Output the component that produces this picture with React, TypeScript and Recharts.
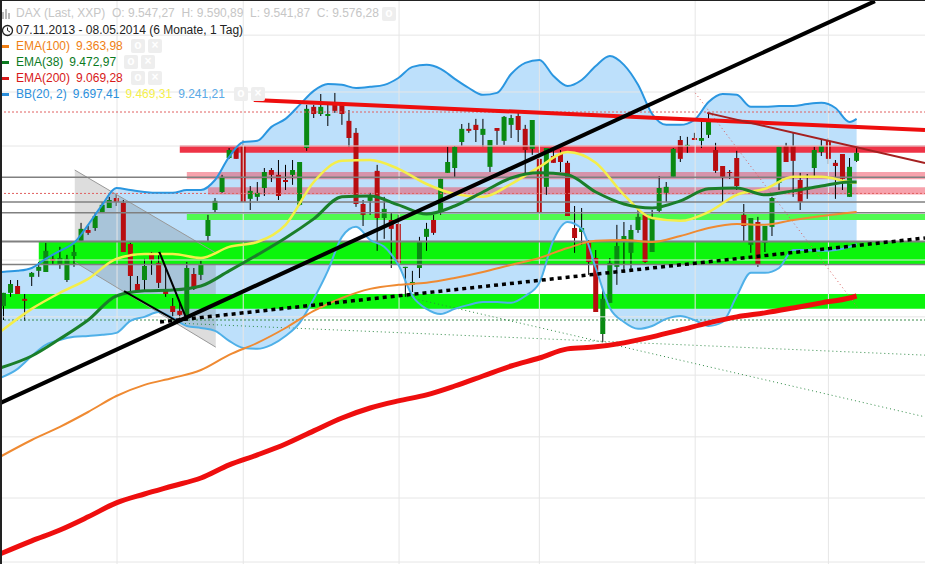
import { ComposedChart, XAxis, YAxis, Bar, Line, Area, ReferenceArea, ReferenceLine } from "recharts";

// daily candles, one entry per trading day
const opens = [9034,9080,9104,9059,9136,9157,9153,9199,9178,9125,9209,9262,9300,9307,9360,9377,9412,9395,9251,9111,9125,9220,9185,9087,9034,9017,8992,9146,9143,9279,9370,9433,9552,9587,9594,9409,9416,9447,9510,9493,9475,9493,9388,9587,9731,9706,9699,9738,9738,9682,9640,9391,9402,9507,9342,9335,9321,9167,9108,9167,9276,9335,9360,9500,9517,9608,9654,9668,9633,9521,9657,9612,9668,9699,9654,9584,9549,9451,9559,9566,9535,9307,9293,9255,9202,8936,9045,9171,9262,9220,9300,9353,9223,9367,9430,9486,9615,9594,9622,9612,9633,9580,9524,9503,9552,9353,9248,9328,9255,9311,9465,9594,9594,9475,9451,9517,9573,9612,9535,9566,9416,9542];
const highs = [9080,9125,9125,9076,9153,9188,9255,9213,9241,9213,9248,9325,9314,9363,9398,9416,9426,9405,9255,9139,9199,9223,9223,9167,9062,9048,9188,9167,9192,9353,9412,9493,9587,9587,9615,9454,9468,9517,9517,9545,9528,9545,9538,9738,9738,9776,9738,9780,9748,9720,9657,9405,9430,9528,9416,9360,9353,9171,9157,9276,9325,9353,9479,9591,9594,9671,9675,9689,9689,9615,9657,9699,9703,9710,9668,9685,9580,9587,9580,9580,9542,9384,9377,9265,9230,9090,9202,9318,9328,9318,9381,9353,9370,9489,9468,9587,9629,9626,9640,9685,9710,9605,9524,9510,9577,9391,9342,9346,9314,9416,9591,9605,9640,9500,9496,9591,9615,9622,9545,9566,9552,9587];
const lows = [8985,9066,9076,8982,9104,9136,9153,9178,9164,9118,9171,9258,9283,9297,9360,9377,9384,9223,9083,9087,9090,9143,9097,9066,8996,8985,8992,9090,9125,9262,9360,9430,9549,9549,9398,9370,9402,9419,9468,9405,9440,9458,9384,9577,9692,9699,9664,9710,9668,9591,9381,9314,9353,9227,9269,9167,9185,9066,9083,9132,9227,9283,9353,9500,9482,9594,9640,9608,9591,9503,9598,9598,9622,9608,9493,9563,9360,9423,9535,9503,9349,9220,9248,9143,9013,8908,9045,9108,9150,9153,9290,9185,9223,9363,9398,9482,9538,9570,9615,9587,9622,9500,9398,9479,9440,9258,9220,9171,9223,9279,9440,9538,9416,9370,9409,9482,9559,9531,9409,9440,9416,9538];
const closes = [9080,9111,9076,9052,9150,9171,9227,9192,9202,9199,9223,9304,9290,9349,9388,9405,9398,9223,9139,9087,9174,9195,9115,9076,9013,9003,9167,9094,9181,9335,9402,9486,9580,9549,9398,9437,9430,9503,9493,9419,9468,9510,9538,9724,9706,9731,9706,9717,9706,9622,9391,9353,9416,9342,9374,9304,9185,9171,9118,9258,9304,9290,9479,9538,9591,9654,9647,9650,9654,9615,9647,9696,9692,9650,9580,9685,9360,9587,9535,9538,9349,9272,9307,9188,9013,9059,9185,9244,9279,9300,9346,9188,9342,9447,9451,9584,9549,9598,9615,9622,9678,9507,9486,9500,9454,9314,9342,9178,9314,9412,9591,9538,9542,9398,9440,9580,9594,9549,9524,9479,9521,9570];

// Bollinger bands, read every second day
const bbDays = [-0.5,2,4,6,8,10,12,14,16,18,20,22,24,26,28,30,32,34,36,38,40,42,44,46,48,50,52,54,56,58,60,62,64,66,68,70,72,74,76,78,80,82,84,86,88,90,92,94,96,98,100,102,104,106,108,110,112,114,116,118,120,121];
const bbUpper = [9153,9157,9167,9199,9227,9255,9318,9388,9447,9440,9433,9430,9430,9440,9440,9475,9556,9608,9612,9661,9689,9738,9787,9811,9808,9797,9801,9808,9832,9871,9878,9864,9829,9797,9773,9780,9846,9885,9895,9839,9804,9825,9874,9909,9878,9808,9706,9668,9668,9685,9748,9776,9773,9731,9731,9734,9734,9741,9745,9727,9678,9689];
const bbLower = [8782,8814,8859,8898,8915,8926,8929,8933,8940,8982,8996,9013,8992,8964,8957,8947,8912,8887,8884,8898,8929,8975,9059,9157,9276,9311,9265,9241,9178,9069,9024,9006,9024,9038,9048,9048,9045,9069,9115,9265,9328,9304,9167,9027,8978,8954,8964,8989,8999,8985,8964,8978,9069,9150,9150,9167,9230,9230,9227,9230,9241,9251];

// moving averages, read every fourth day
const maDays = [-0.5,4,8,12,16,20,24,28,32,36,40,44,48,52,56,60,64,68,72,76,80,84,88,92,96,100,104,108,112,116,120,121];
const bbMid = [8943,9024,9080,9129,9199,9216,9216,9202,9241,9258,9318,9468,9542,9545,9514,9461,9426,9416,9461,9521,9573,9535,9423,9342,9332,9363,9423,9444,9486,9486,9468,9465];
const ema38 = [8817,8859,8919,8985,9069,9087,9090,9104,9157,9213,9272,9339,9416,9419,9388,9356,9384,9433,9482,9500,9493,9433,9391,9377,9402,9444,9447,9423,9437,9454,9468,9468];
const ema100 = [8506,8565,8611,8663,8719,8758,8782,8810,8863,8905,8957,9017,9062,9094,9108,9115,9132,9153,9178,9202,9237,9262,9265,9258,9279,9307,9321,9318,9335,9349,9360,9363];
const ema200 = [8166,8212,8250,8296,8345,8376,8404,8432,8478,8513,8551,8597,8642,8677,8702,8723,8754,8789,8824,8852,8884,8891,8905,8926,8950,8975,8996,9010,9027,9045,9062,9069];

// drawing tools on the chart: [day, price] at both ends
const thickTrend = [[-0.5, 8694], [123.6, 10101]];
const dottedTrend = [[22.2, 8978], [130.7, 9272]];
const topResistance = [[35.5, 9755], [130.7, 9650]];
const darkResistance = [[99.8, 9710], [130.7, 9534]];
const redDotted = [[98.1, 9780], [121.1, 9030]];
const greenDottedA = [[24.6, 8974], [130.7, 8862]];
const greenDottedB = [[57.2, 9066], [130.7, 8646]];
const thinA = [[17.1, 9086], [24.8, 8978]];
const thinB = [[22.1, 9223], [25.9, 8992]];

const channelDays = [10.1, 30.1];
const channelTop = [9510, 9220];
const channelBottom = [9188, 8890];

// zones: from day, top price, bottom price
const redZone = [25, 9596, 9570];
const pinkZoneA = [26, 9503, 9478];
const pinkZoneB = [29, 9450, 9424];
const paleGreenZone = [26, 9356, 9335];
const greenZoneA = [5, 9258, 9178];
const greenZoneB = [-0.5, 9076, 9024];

const grayLevels = [9485, 9398, 9360, 9260, 9179];
const gridPrices = [9982, 9783, 9594, 9195, 8996, 8792, 8576, 8362, 8138];
const gridDays = [16.1, 34, 56.1, 76, 98.1, 117];

const X_MIN = -0.5;
const X_MAX = 130.7;
const W = 925;
const H = 564;
const CANDLE_W = 5;

const candles = opens.map((open, i) => ({
  day: i,
  open,
  close: closes[i],
  high: highs[i],
  low: lows[i],
  wick: [lows[i], highs[i]],
}));
const bbBand = bbDays.map((day, i) => ({ day, range: [bbLower[i], bbUpper[i]], upper: bbUpper[i], lower: bbLower[i] }));
const maRows = maDays.map((day, i) => ({ day, mid: bbMid[i], e38: ema38[i], e100: ema100[i], e200: ema200[i] }));
const channel = channelDays.map((day, i) => ({ day, range: [channelBottom[i], channelTop[i]], top: channelTop[i], bottom: channelBottom[i] }));
const seg = (pts: number[][]) => pts.map(([day, price]) => ({ day, price }));

const legendRows = [
  { y: 46, color: "#f07f13", name: "EMA(100)", parts: [["9.363,98", "#f07f13"]], box: 131 },
  { y: 62, color: "#0b7a1e", name: "EMA(38)", parts: [["9.472,97", "#0b7a1e"]], box: 124 },
  { y: 78, color: "#d81818", name: "EMA(200)", parts: [["9.069,28", "#d81818"]], box: 131 },
  { y: 94, color: "#2b8fdc", name: "BB(20, 2)", parts: [["9.697,41", "#2b8fdc"], ["9.469,31", "#f5ef4b"], ["9.241,21", "#5aa9e6"]], box: 234 },
];

// the wick rect comes from the scale, the body is placed inside it by price.
// the bar's own width is useless here: the band shrinks to the tightest gap of all the series on the axis
function Candle(props: any) {
  const { x, y, width, height, payload } = props;
  const cx = x + width / 2;
  const perPrice = height / (payload.high - payload.low);
  const top = y + (payload.high - Math.max(payload.open, payload.close)) * perPrice;
  const bodyH = Math.max(Math.abs(payload.open - payload.close) * perPrice, 1);
  const up = payload.close >= payload.open;
  return (
    <g>
      <rect x={cx - 0.5} y={y} width={1} height={height} fill="#000" />
      <rect x={cx - CANDLE_W / 2} y={top} width={CANDLE_W} height={bodyH} fill={up ? "#0a8a12" : "#b80d10"} />
    </g>
  );
}

function IconBox({ x, y, glyph }: { x: number; y: number; glyph: string }) {
  return (
    <div style={{ position: "absolute", left: x, top: y - 7, width: 14, height: 14, background: "#eeeeee", borderRadius: 2, color: "#fff", fontSize: 12, lineHeight: "13px", textAlign: "center", fontWeight: 700 }}>
      {glyph}
    </div>
  );
}

function Legend() {
  const base = { position: "absolute", left: 16, whiteSpace: "pre", fontSize: 12, lineHeight: "16px" } as const;
  return (
    <div style={{ position: "absolute", left: 0, top: 0, width: W, height: H, fontFamily: "'Liberation Sans', Arial, sans-serif", pointerEvents: "none" }}>
      <div style={{ ...base, top: 5, color: "#c6c6c6" }}>DAX (Last, XXP)  O: 9.547,27  H: 9.590,89  L: 9.541,87  C: 9.576,28</div>
      <IconBox x={382} y={14} glyph="o" />
      <svg style={{ position: "absolute", left: 2, top: 8, width: 10, height: 12 }}>
        <path d="M1 11V4M4 11V1M7 11V5" stroke="#bbb" strokeWidth={2} />
      </svg>
      <svg style={{ position: "absolute", left: 1, top: 24, width: 13, height: 13 }}>
        <circle cx={6.5} cy={6.5} r={5} fill="none" stroke="#222" strokeWidth={1.3} />
        <path d="M6.5 3.5V6.5L9 8" fill="none" stroke="#222" />
      </svg>
      <div style={{ ...base, top: 22, color: "#222" }}>07.11.2013 - 08.05.2014 (6 Monate, 1 Tag)</div>
      {legendRows.map((row) => (
        <div key={row.name}>
          <div style={{ position: "absolute", left: 2, top: row.y - 1, width: 7, height: 3, background: row.color }} />
          <div style={{ ...base, top: row.y - 8 }}>
            <span style={{ color: row.color }}>{row.name}</span>
            {row.parts.map(([val, c]) => (
              <span key={val} style={{ color: c, marginLeft: 6 }}>{val}</span>
            ))}
          </div>
          <IconBox x={row.box} y={row.y} glyph="o" />
          <IconBox x={row.box + 17} y={row.y} glyph="×" />
        </div>
      ))}
    </div>
  );
}

export default function App() {
  return (
    <div style={{ position: "absolute", left: 0, top: 0, width: W, height: H, background: "#fff", overflow: "hidden", borderTop: "1px solid #222", borderLeft: "2px solid #222", boxSizing: "border-box" }}>
      <div style={{ position: "absolute", left: -2, top: -1 }}>
        <ComposedChart width={W} height={H} data={candles} margin={{ top: 0, right: 0, bottom: 0, left: 0 }}>
          <XAxis dataKey="day" type="number" domain={[X_MIN, X_MAX]} hide allowDataOverflow />
          <YAxis domain={[8131, 10105]} hide allowDataOverflow />

          <Area data={bbBand} dataKey="range" type="monotone" fill="#bde0fb" fillOpacity={1} stroke="none" isAnimationActive={false} dot={false} activeDot={false} />

          {gridPrices.map((p) => (
            <ReferenceLine key={p} y={p} stroke="#e6e6e6" strokeWidth={1} />
          ))}
          {gridDays.map((d) => (
            <ReferenceLine key={d} x={d} stroke="#e6e6e6" strokeWidth={1} />
          ))}

          <Area data={channel} dataKey="range" type="linear" fill="#555" fillOpacity={0.2} stroke="none" isAnimationActive={false} dot={false} activeDot={false} />
          <Line data={channel} dataKey="top" type="linear" stroke="#999" strokeWidth={1} dot={false} activeDot={false} isAnimationActive={false} />
          <Line data={channel} dataKey="bottom" type="linear" stroke="#999" strokeWidth={1} dot={false} activeDot={false} isAnimationActive={false} />

          <ReferenceArea x1={greenZoneA[0]} x2={X_MAX} y1={greenZoneA[2]} y2={greenZoneA[1]} fill="#0cf50c" fillOpacity={1} stroke="none" />
          <ReferenceArea x1={greenZoneB[0]} x2={X_MAX} y1={greenZoneB[2]} y2={greenZoneB[1]} fill="#0cf50c" fillOpacity={1} stroke="none" />
          <ReferenceArea x1={paleGreenZone[0]} x2={X_MAX} y1={paleGreenZone[2]} y2={paleGreenZone[1]} fill="#50fa50" fillOpacity={1} stroke="none" />
          <ReferenceArea x1={redZone[0]} x2={X_MAX} y1={redZone[2]} y2={redZone[1]} fill="#ee3346" fillOpacity={1} stroke="none" />
          <ReferenceArea x1={pinkZoneA[0]} x2={X_MAX} y1={pinkZoneA[2]} y2={pinkZoneA[1]} fill="#f0465a" fillOpacity={0.5} stroke="none" />
          <ReferenceArea x1={pinkZoneB[0]} x2={X_MAX} y1={pinkZoneB[2]} y2={pinkZoneB[1]} fill="#f0465a" fillOpacity={0.5} stroke="none" />

          {grayLevels.map((p, i) => (
            <ReferenceLine key={p} y={p} stroke="#808080" strokeWidth={i === 3 ? 2 : 1.5} />
          ))}
          <ReferenceLine y={9713} stroke="#e06060" strokeDasharray="2 2" />
          <ReferenceLine y={9428} stroke="#e06060" strokeDasharray="2 2" />
          <ReferenceLine y={8985} stroke="#3a8a4a" strokeDasharray="2 2" />

          <Bar dataKey="wick" barSize={5} shape={Candle} isAnimationActive={false} />

          <Line data={seg(greenDottedA)} dataKey="price" stroke="#2f8a45" strokeWidth={1} strokeDasharray="1 3" dot={false} activeDot={false} isAnimationActive={false} />
          <Line data={seg(greenDottedB)} dataKey="price" stroke="#2f8a45" strokeWidth={1} strokeDasharray="1 3" dot={false} activeDot={false} isAnimationActive={false} />
          <Line data={seg(redDotted)} dataKey="price" stroke="#d85c5c" strokeWidth={1} strokeDasharray="1 3" dot={false} activeDot={false} isAnimationActive={false} />

          <Line data={bbBand} dataKey="upper" type="monotone" stroke="#2a96e0" strokeWidth={2} dot={false} activeDot={false} isAnimationActive={false} />
          <Line data={bbBand} dataKey="lower" type="monotone" stroke="#4fb0e8" strokeWidth={2} dot={false} activeDot={false} isAnimationActive={false} />
          <Line data={maRows} dataKey="mid" type="monotone" stroke="#f4ee4a" strokeWidth={2.5} dot={false} activeDot={false} isAnimationActive={false} />
          <Line data={maRows} dataKey="e100" type="monotone" stroke="#ef8a32" strokeWidth={2} dot={false} activeDot={false} isAnimationActive={false} />
          <Line data={maRows} dataKey="e38" type="monotone" stroke="#1a7f2a" strokeWidth={3} dot={false} activeDot={false} isAnimationActive={false} />
          <Line data={maRows} dataKey="e200" type="monotone" stroke="#ee0e0e" strokeWidth={5} dot={false} activeDot={false} isAnimationActive={false} />

          <Line data={seg(topResistance)} dataKey="price" stroke="#ee0e0e" strokeWidth={4} dot={false} activeDot={false} isAnimationActive={false} />
          <Line data={seg(darkResistance)} dataKey="price" stroke="#a52020" strokeWidth={2} dot={false} activeDot={false} isAnimationActive={false} />
          <Line data={seg(thickTrend)} dataKey="price" stroke="#000" strokeWidth={4} dot={false} activeDot={false} isAnimationActive={false} />
          <Line data={seg(dottedTrend)} dataKey="price" stroke="#000" strokeWidth={3.5} strokeDasharray="4 4" dot={false} activeDot={false} isAnimationActive={false} />
          <Line data={seg(thinA)} dataKey="price" stroke="#000" strokeWidth={2} dot={false} activeDot={false} isAnimationActive={false} />
          <Line data={seg(thinB)} dataKey="price" stroke="#000" strokeWidth={2} dot={false} activeDot={false} isAnimationActive={false} />
        </ComposedChart>
      </div>
      <div style={{ position: "absolute", left: -2, top: -1 }}>
        <Legend />
      </div>
    </div>
  );
}
